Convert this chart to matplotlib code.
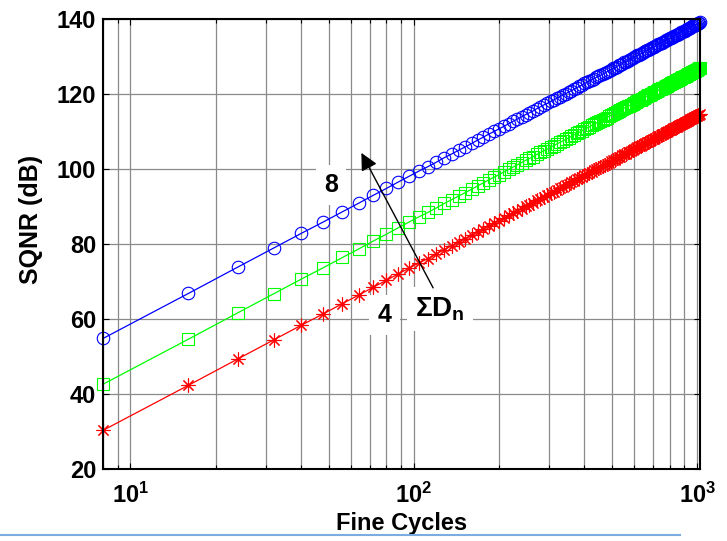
"""SQNR against fine cycles for three word lengths, MATLAB-style log plot."""

import matplotlib

matplotlib.use("Agg")
import matplotlib.pyplot as plt
from matplotlib.lines import Line2D
from matplotlib.ticker import LogLocator, NullFormatter

# Fine cycles: every 8th cycle from 8 up to 1024.
fine_cycles = [
    8, 16, 24, 32, 40, 48, 56, 64, 72, 80, 88, 96, 104, 112, 120, 128,
    136, 144, 152, 160, 168, 176, 184, 192, 200, 208, 216, 224, 232, 240, 248, 256,
    264, 272, 280, 288, 296, 304, 312, 320, 328, 336, 344, 352, 360, 368, 376, 384,
    392, 400, 408, 416, 424, 432, 440, 448, 456, 464, 472, 480, 488, 496, 504, 512,
    520, 528, 536, 544, 552, 560, 568, 576, 584, 592, 600, 608, 616, 624, 632, 640,
    648, 656, 664, 672, 680, 688, 696, 704, 712, 720, 728, 736, 744, 752, 760, 768,
    776, 784, 792, 800, 808, 816, 824, 832, 840, 848, 856, 864, 872, 880, 888, 896,
    904, 912, 920, 928, 936, 944, 952, 960, 968, 976, 984, 992, 1000, 1008, 1016, 1024,
]

# SQNR (dB), top curve (blue circles)
sqnr_high = [
    54.8, 66.8, 73.9, 78.9, 82.8, 85.9, 88.6, 90.9, 93.0, 94.8, 96.5, 98.0, 99.4, 100.6, 101.8, 103.0,
    104.0, 105.0, 105.9, 106.8, 107.7, 108.5, 109.3, 110.0, 110.7, 111.4, 112.1, 112.7, 113.3, 113.9, 114.5, 115.0,
    115.5, 116.1, 116.6, 117.1, 117.5, 118.0, 118.4, 118.9, 119.3, 119.7, 120.1, 120.5, 120.9, 121.3, 121.7, 122.0,
    122.4, 122.8, 123.1, 123.4, 123.8, 124.1, 124.4, 124.7, 125.0, 125.3, 125.6, 125.9, 126.2, 126.5, 126.8, 127.0,
    127.3, 127.6, 127.8, 128.1, 128.4, 128.6, 128.9, 129.1, 129.3, 129.6, 129.8, 130.0, 130.3, 130.5, 130.7, 130.9,
    131.1, 131.4, 131.6, 131.8, 132.0, 132.2, 132.4, 132.6, 132.8, 133.0, 133.2, 133.4, 133.5, 133.7, 133.9, 134.1,
    134.3, 134.4, 134.6, 134.8, 135.0, 135.1, 135.3, 135.5, 135.6, 135.8, 136.0, 136.1, 136.3, 136.5, 136.6, 136.8,
    136.9, 137.1, 137.2, 137.4, 137.5, 137.7, 137.8, 138.0, 138.1, 138.3, 138.4, 138.5, 138.7, 138.8, 139.0, 139.1,
]

# middle curve (green squares)
sqnr_mid = [
    42.6, 54.6, 61.7, 66.7, 70.6, 73.7, 76.4, 78.7, 80.8, 82.6, 84.3, 85.8, 87.2, 88.4, 89.6, 90.8,
    91.8, 92.8, 93.7, 94.6, 95.5, 96.3, 97.1, 97.8, 98.5, 99.2, 99.9, 100.5, 101.1, 101.7, 102.3, 102.8,
    103.3, 103.9, 104.4, 104.9, 105.3, 105.8, 106.2, 106.7, 107.1, 107.5, 107.9, 108.3, 108.7, 109.1, 109.5, 109.8,
    110.2, 110.6, 110.9, 111.2, 111.6, 111.9, 112.2, 112.5, 112.8, 113.1, 113.4, 113.7, 114.0, 114.3, 114.6, 114.8,
    115.1, 115.4, 115.6, 115.9, 116.2, 116.4, 116.7, 116.9, 117.1, 117.4, 117.6, 117.8, 118.1, 118.3, 118.5, 118.7,
    118.9, 119.2, 119.4, 119.6, 119.8, 120.0, 120.2, 120.4, 120.6, 120.8, 121.0, 121.2, 121.3, 121.5, 121.7, 121.9,
    122.1, 122.2, 122.4, 122.6, 122.8, 122.9, 123.1, 123.3, 123.4, 123.6, 123.8, 123.9, 124.1, 124.3, 124.4, 124.6,
    124.7, 124.9, 125.0, 125.2, 125.3, 125.5, 125.6, 125.8, 125.9, 126.1, 126.2, 126.3, 126.5, 126.6, 126.8, 126.9,
]

# bottom curve (red asterisks)
sqnr_low = [
    30.3, 42.3, 49.4, 54.4, 58.3, 61.4, 64.1, 66.4, 68.5, 70.3, 72.0, 73.5, 74.9, 76.1, 77.3, 78.5,
    79.5, 80.5, 81.4, 82.3, 83.2, 84.0, 84.8, 85.5, 86.2, 86.9, 87.6, 88.2, 88.8, 89.4, 90.0, 90.5,
    91.0, 91.6, 92.1, 92.6, 93.0, 93.5, 93.9, 94.4, 94.8, 95.2, 95.6, 96.0, 96.4, 96.8, 97.2, 97.5,
    97.9, 98.3, 98.6, 98.9, 99.3, 99.6, 99.9, 100.2, 100.5, 100.8, 101.1, 101.4, 101.7, 102.0, 102.3, 102.5,
    102.8, 103.1, 103.3, 103.6, 103.9, 104.1, 104.4, 104.6, 104.8, 105.1, 105.3, 105.5, 105.8, 106.0, 106.2, 106.4,
    106.6, 106.9, 107.1, 107.3, 107.5, 107.7, 107.9, 108.1, 108.3, 108.5, 108.7, 108.9, 109.0, 109.2, 109.4, 109.6,
    109.8, 109.9, 110.1, 110.3, 110.5, 110.6, 110.8, 111.0, 111.1, 111.3, 111.5, 111.6, 111.8, 112.0, 112.1, 112.3,
    112.4, 112.6, 112.7, 112.9, 113.0, 113.2, 113.3, 113.5, 113.6, 113.8, 113.9, 114.0, 114.2, 114.3, 114.5, 114.6,
]

y_ticks = [20, 40, 60, 80, 100, 120, 140]
x_ticks = [10, 100, 1000]
x_tick_labels = [r"$\mathbf{10^{1}}$", r"$\mathbf{10^{2}}$", r"$\mathbf{10^{3}}$"]

plt.rcParams["font.family"] = ["Liberation Sans", "DejaVu Sans"]
plt.rcParams["mathtext.fontset"] = "custom"
plt.rcParams["mathtext.bf"] = "Liberation Sans:bold"
plt.rcParams["mathtext.rm"] = "Liberation Sans"

fig = plt.figure(figsize=(7.27, 5.41), dpi=100)
ax = fig.add_axes([0.1417, 0.1331, 0.8212, 0.8318])

ax.plot(fine_cycles, sqnr_high, color="#0000ff", lw=0.9, marker="o", ms=9,
        mfc="none", mew=0.8, clip_on=False)
ax.plot(fine_cycles, sqnr_mid, color="#00ff00", lw=0.9, marker="s", ms=8.5,
        mfc="none", mew=0.8, clip_on=False)
ax.plot(fine_cycles, sqnr_low, color="#ff0000", lw=0.9, marker=(8, 2, 0), ms=10,
        mew=0.8, clip_on=False)

ax.set_xscale("log")
ax.set_xlim(8, 1024)
ax.set_ylim(20, 140)
ax.set_yticks(y_ticks)
ax.set_xticks(x_ticks)
ax.set_xticklabels(x_tick_labels)
ax.xaxis.set_minor_locator(LogLocator(base=10, subs=range(2, 10)))
ax.xaxis.set_minor_formatter(NullFormatter())

ax.grid(True, which="major", color="#8a8a8a", lw=0.9)
ax.grid(True, which="minor", axis="x", color="#8a8a8a", lw=0.9)
ax.set_axisbelow(True)

ax.tick_params(which="both", direction="in", top=True, right=True, length=4, width=0.8)
ax.tick_params(which="minor", length=3)
ax.tick_params(axis="y", labelsize=17, pad=5)
ax.tick_params(axis="x", labelsize=17, pad=10)
for lab in ax.get_yticklabels():
    lab.set_fontweight("bold")
for sp in ax.spines.values():
    sp.set_linewidth(1.5)

ax.set_xlabel("Fine Cycles", fontsize=17, fontweight="bold", labelpad=3)
ax.set_ylabel("SQNR (dB)", fontsize=18, fontweight="bold")
ax.yaxis.set_label_coords(-0.1, 0.555)

# word-length annotations and the growth arrow
box = dict(facecolor="white", edgecolor="none", pad=6)
ax.text(51, 95.7, "8", fontsize=18, fontweight="bold", ha="center", va="center", bbox=box)
ax.text(78.7, 61.1, "4", fontsize=18, fontweight="bold", ha="center", va="center", bbox=box)
ax.text(101, 62.6, r"$\mathbf{\Sigma D_n}$", fontsize=20, ha="left", va="center", bbox=box)
ax.annotate("", xy=(65.3, 104.3), xytext=(117, 68.3),
            arrowprops=dict(arrowstyle="-|>", color="black", lw=1.0,
                            mutation_scale=26, shrinkA=0, shrinkB=0))

# cropped panel title and the page rule under the figure
fig.text(0.572, 1.009, "(a)", color="#0000ff", fontsize=16, fontweight="bold",
         ha="center", va="baseline")
fig.add_artist(Line2D([0.0, 0.935], [0.011, 0.011], color="#7aaee0", lw=1.5,
                      transform=fig.transFigure))

fig.savefig("out.png", dpi=100)
